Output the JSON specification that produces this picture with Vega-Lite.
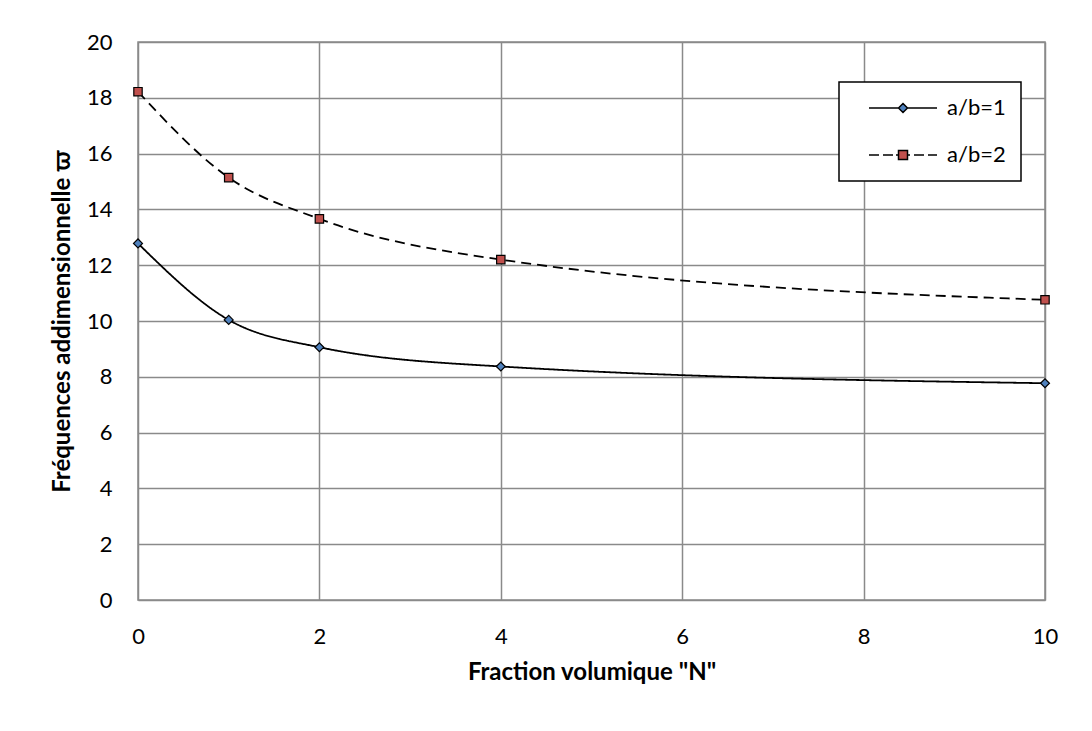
{
  "$schema": "https://vega.github.io/schema/vega-lite/v6.json",
  "width": 907,
  "height": 558,
  "autosize": "none",
  "padding": {"left": 138, "top": 42, "right": 47, "bottom": 131},
  "background": "white",
  "config": {
    "font": "Lato",
    "view": {"stroke": "#8a8a8a", "strokeWidth": 1.5},
    "axis": {
      "grid": true,
      "gridColor": "#8a8a8a",
      "gridWidth": 1.5,
      "ticks": false,
      "domain": false,
      "labelFont": "Lato",
      "labelFontSize": 22,
      "labelColor": "black",
      "labelPadding": 26,
      "titleFont": "Lato",
      "titleFontSize": 24,
      "titleFontWeight": "bold",
      "titleColor": "black"
    },
    "legend": {
      "orient": "none",
      "legendX": 701,
      "legendY": 40,
      "padding": 15,
      "strokeColor": "black",
      "strokeWidth": 1.5,
      "fillColor": "white",
      "labelFont": "Lato",
      "labelFontSize": 22,
      "labelColor": "black",
      "rowPadding": 25,
      "labelOffset": 71,
      "symbolSize": 64,
      "symbolStrokeColor": "black",
      "symbolStrokeWidth": 1.5
    }
  },
  "data": {
    "values": [
      {"N": 0, "freq": 12.78, "series": "a/b=1"},
      {"N": 1, "freq": 10.04, "series": "a/b=1"},
      {"N": 2, "freq": 9.06, "series": "a/b=1"},
      {"N": 4, "freq": 8.37, "series": "a/b=1"},
      {"N": 10, "freq": 7.77, "series": "a/b=1"},
      {"N": 0, "freq": 18.22, "series": "a/b=2"},
      {"N": 1, "freq": 15.14, "series": "a/b=2"},
      {"N": 2, "freq": 13.66, "series": "a/b=2"},
      {"N": 4, "freq": 12.2, "series": "a/b=2"},
      {"N": 10, "freq": 10.76, "series": "a/b=2"}
    ]
  },
  "encoding": {
    "x": {
      "field": "N",
      "type": "quantitative",
      "scale": {"domain": [0, 10], "nice": false},
      "axis": {"values": [0, 2, 4, 6, 8, 10], "title": "Fraction volumique \"N\"", "titlePadding": 13, "labelFlush": false}
    },
    "y": {
      "field": "freq",
      "type": "quantitative",
      "scale": {"domain": [0, 20], "nice": false},
      "axis": {"values": [0, 2, 4, 6, 8, 10, 12, 14, 16, 18, 20], "title": "Fréquences addimensionnelle ϖ", "titlePadding": 12, "labelFlush": false}
    }
  },
  "layer": [
    {
      "mark": {"type": "line", "interpolate": "monotone", "color": "black", "strokeWidth": 1.8},
      "encoding": {
        "detail": {"field": "series", "type": "nominal"},
        "strokeDash": {
          "condition": {"test": "datum.series === 'a/b=2'", "value": [10, 6]},
          "value": [1, 0]
        }
      }
    },
    {
      "transform": [{"filter": "datum.series === 'a/b=1'"}],
      "mark": {"type": "point", "shape": "diamond", "filled": true, "fill": "#4F81BD", "stroke": "black", "strokeWidth": 1.2, "size": 80, "opacity": 1}
    },
    {
      "transform": [{"filter": "datum.series === 'a/b=2'"}],
      "mark": {"type": "point", "shape": "square", "filled": true, "fill": "#C0504D", "stroke": "black", "strokeWidth": 1.2, "size": 70, "opacity": 1}
    },
    {
      "transform": [{"filter": "datum.N < 0"}],
      "mark": {"type": "point", "filled": false, "strokeWidth": 1.5, "opacity": 1},
      "encoding": {
        "shape": {
          "field": "series",
          "type": "nominal",
          "scale": {
            "domain": ["a/b=1", "a/b=2"],
            "range": [
              "M1,0H8.375M10.625,0H18M9.5,-1.125L10.625,0L9.5,1.125L8.375,0Z",
              "M1,0H3.5M4.5,0H7M7.75,0H8.375M10.625,0H11.25M12.25,0H14.75M15.75,0H18M8.375,-1.125H10.625V1.125H8.375Z"
            ]
          },
          "legend": {"title": null}
        },
        "fill": {
          "field": "series",
          "type": "nominal",
          "scale": {"domain": ["a/b=1", "a/b=2"], "range": ["#4F81BD", "#C0504D"]},
          "legend": {"title": null}
        },
        "stroke": {
          "field": "series",
          "type": "nominal",
          "scale": {"domain": ["a/b=1", "a/b=2"], "range": ["black", "black"]},
          "legend": {"title": null}
        }
      }
    }
  ]
}
